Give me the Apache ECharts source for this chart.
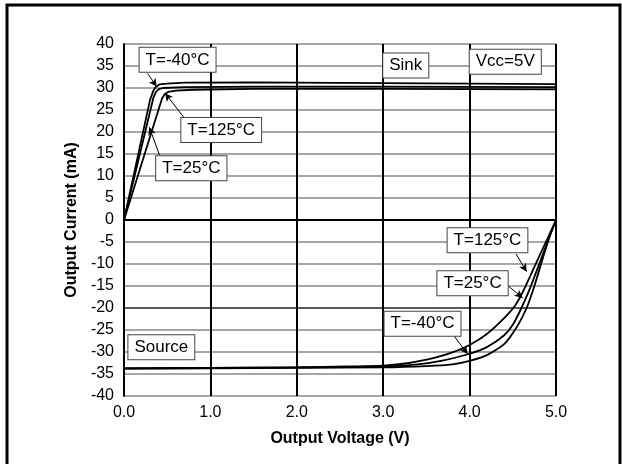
<!DOCTYPE html>
<html>
<head>
<meta charset="utf-8">
<script src="https://cdn.jsdelivr.net/npm/echarts@6/dist/echarts.min.js"></script>
<style>
html,body{margin:0;padding:0;background:#fff;}
#chart{width:622px;height:464px;}
</style>
</head>
<body>
<div id="chart"></div>
<script>
// ---- data ----
const xTicks = [0, 1, 2, 3, 4, 5];
const yTicks = [-40,-35,-30,-25,-20,-15,-10,-5,0,5,10,15,20,25,30,35,40];

const sinkM40 = [[0,0],[0.3,27.2],[0.34,29.4],[0.37,30.3],[0.41,30.8],[0.5,31.0],[0.7,31.2],[1.5,31.3],[3,31.1],[5,30.9]];
const sink25  = [[0,0],[0.34,27.8],[0.37,29.1],[0.4,29.7],[0.45,30.0],[0.7,30.2],[1.5,30.3],[3,30.3],[5,30.2]];
const sink125 = [[0,0],[0.44,27.6],[0.47,28.6],[0.51,29.1],[0.6,29.4],[0.8,29.6],[1.5,29.8],[3,29.8],[5,29.7]];

const srcM40 = [[0,-33.8],[1,-33.7],[2,-33.6],[3,-33.5],[3.5,-33.2],[3.8,-32.8],[4.0,-32.0],[4.2,-30.7],[4.4,-28.2],[4.55,-24.2],[4.66,-20],[4.75,-15],[4.85,-8.5],[4.93,-3.5],[5,0]];
const src25  = [[0,-33.7],[1,-33.6],[2,-33.5],[3,-33.3],[3.4,-32.8],[3.7,-31.9],[4.0,-30.4],[4.2,-28.9],[4.4,-26.2],[4.5,-23.8],[4.6,-20],[4.7,-15.5],[4.8,-10.3],[4.9,-5.1],[5,0]];
const src125 = [[0,-33.7],[1,-33.6],[2,-33.5],[2.6,-33.3],[3,-33.1],[3.3,-32.5],[3.6,-31.3],[3.8,-30.1],[4.0,-28.4],[4.2,-25.9],[4.4,-22.3],[4.525,-19.5],[4.62,-16.2],[4.7,-12.8],[4.8,-8.5],[4.9,-4.3],[5,0]];

const noteTexts = ['T=-40°C','T=125°C','T=25°C','Sink','Vcc=5V','Source','T=125°C','T=25°C','T=-40°C'];
const notePos   = [[0.62,36.4],[1.125,20.45],[0.779,11.75],[3.261,35.1],[4.413,35.98],[0.432,-28.9],[4.207,-4.6],[4.034,-14.4],[3.455,-23.56]];
const arrowFrom = [[0.274,33.3],[0.694,23.3],[0.41,14.8],[4.537,-7.7],[4.448,-15],[3.81,-26.1]];
const arrowTo   = [[0.378,30.3],[0.475,28.8],[0.293,21.1],[4.66,-11.75],[4.614,-17.7],[3.978,-30.45]];

// ---- chart ----
const FONT = '"Liberation Sans", Arial, sans-serif';
const gridColors = yTicks.map(v => v === 0 ? '#000' : (v === -20 ? '#222' : '#8a8a8a'));

const chart = echarts.init(document.getElementById('chart'));
function curve(name, data, smooth) {
  return {
    name, type: 'line', data, showSymbol: false, symbol: 'none',
    smooth: smooth,
    lineStyle: { color: '#000', width: 1.8 }, z: 3, silent: true
  };
}
const option = {
  backgroundColor: '#fff',
  animation: false,
  textStyle: { fontFamily: FONT },
  grid: { left: 124, right: 66, top: 44, bottom: 68, containLabel: false },
  xAxis: {
    type: 'value', min: xTicks[0], max: xTicks[xTicks.length - 1], interval: 1,
    name: 'Output Voltage (V)', nameLocation: 'middle', nameGap: 35,
    nameTextStyle: { fontSize: 16, fontWeight: 'bold', color: '#000', fontFamily: FONT },
    axisLine: { lineStyle: { color: '#000', width: 2 } },
    axisTick: { show: false },
    axisLabel: { fontSize: 16, color: '#000', margin: 9, fontFamily: FONT, formatter: v => v.toFixed(1) },
    splitLine: { show: true, lineStyle: { color: '#000', width: 2 } }
  },
  yAxis: {
    type: 'value', min: yTicks[0], max: yTicks[yTicks.length - 1], interval: 5,
    name: 'Output Current (mA)', nameLocation: 'middle', nameGap: 41, nameRotate: 90,
    nameTextStyle: { fontSize: 16, fontWeight: 'bold', color: '#000', fontFamily: FONT },
    axisLine: { onZero: false, lineStyle: { color: '#000', width: 2 } },
    axisTick: { show: false },
    axisLabel: { fontSize: 16, color: '#000', margin: 10, fontFamily: FONT },
    splitLine: { show: true, lineStyle: { color: gridColors, width: 1.5 } }
  },
  graphic: [{
    type: 'rect', z: -10, silent: true,
    shape: { x: 7, y: 5, width: 613, height: 500 },
    style: { fill: 'none', stroke: '#000', lineWidth: 3 }
  }],
  series: [
    curve('sink -40', sinkM40, false),
    curve('sink 25', sink25, false),
    curve('sink 125', sink125, false),
    curve('source -40', srcM40, 0.2),
    curve('source 25', src25, 0.2),
    curve('source 125', src125, 0.2),
    {
      name: 'notes', type: 'line', data: [], silent: true, z: 10,
      markLine: {
        silent: true, animation: false,
        symbol: ['none', 'arrow'], symbolSize: [6, 8],
        lineStyle: { color: '#000', width: 1, type: 'solid' },
        label: { show: false },
        data: arrowFrom.map((f, i) => [{ coord: f }, { coord: arrowTo[i] }])
      },
      markPoint: {
        silent: true, animation: false,
        symbol: 'rect', symbolSize: 0,
        label: {
          show: true, position: 'inside', formatter: p => p.name,
          fontSize: 17, color: '#000', fontFamily: FONT,
          backgroundColor: '#fff', borderColor: '#444', borderWidth: 1,
          padding: [4, 6, 3, 6]
        },
        data: noteTexts.map((t, i) => ({ name: t, coord: notePos[i] }))
      }
    }
  ]
};
chart.setOption(option);
</script>
</body>
</html>
